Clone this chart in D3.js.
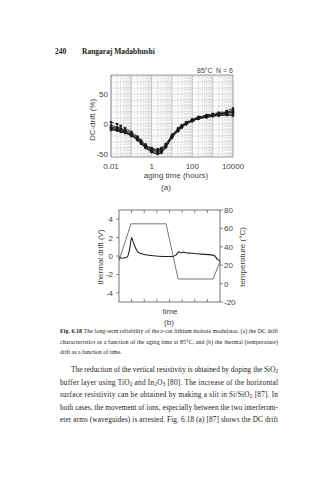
<!DOCTYPE html>
<html>
<head>
<meta charset="utf-8">
<script src="https://cdn.jsdelivr.net/npm/d3@7/dist/d3.min.js"></script>
<style>
  html, body { margin: 0; padding: 0; background: #fff; }
  svg { display: block; }
</style>
</head>
<body>
<svg id="page" width="335" height="480"></svg>
<script>
// ---- (a) DC drift vs aging time, six devices at 85 °C ----
const agingHours = [0.01, 0.02, 0.03, 0.05, 0.1, 0.2, 0.3, 0.5, 1, 2, 3, 5, 10, 20, 30, 50, 100, 200, 500, 1000, 2000, 5000, 10000];
const drift1 = [3, 0, -3, -7, -13, -21, -27, -34, -40, -42, -40, -33, -18, -7, -2, 3, 8, 12, 15, 17, 19, 22, 26];
const drift2 = [-2, -5, -7, -10, -15, -22, -28, -35, -41, -43, -41, -34, -19, -8, -3, 2, 7, 11, 14, 16, 18, 20, 23];
const drift3 = [-5, -7, -9, -12, -17, -24, -30, -37, -43, -45, -43, -36, -20, -9, -4, 1, 6, 10, 13, 15, 17, 19, 21];
const drift4 = [-7, -9, -11, -13, -18, -25, -31, -38, -44, -47, -45, -37, -21, -10, -4, 1, 6, 10, 13, 15, 16, 18, 20];
const drift5 = [-8, -10, -12, -14, -19, -26, -32, -39, -46, -49, -47, -38, -22, -11, -5, 0, 5, 9, 12, 14, 15, 16, 17];
const drift6 = [-10, -11, -13, -15, -20, -27, -33, -40, -47, -50, -48, -39, -23, -12, -6, 0, 5, 9, 11, 13, 14, 15, 14];
const driftSeries = [drift1, drift2, drift3, drift4, drift5, drift6];
const xTicksA = [0.01, 1, 100, 10000];
const xTickLabelsA = ["0.01", "1", "100", "10000"];
const yTicksA = [-50, 0, 50];

// ---- (b) thermal drift and temperature vs time ----
const tempTime = [0, 0.95, 3.73, 4.68, 7.46, 8];
const tempValues = [25, 65, 65, 5, 5, 24];
const thermTime = [0, 0.2, 0.5, 0.66, 0.85, 1.0, 1.08, 1.27, 1.53, 1.93, 2.7, 3.5, 4.2, 4.5, 4.75, 4.9, 5.1, 5.3, 5.8, 6.5, 7.3, 7.6, 7.8, 8.0];
const thermValues = [-0.1, -0.25, -0.2, -0.1, 0.8, 2.0, 1.7, 1.0, 0.4, 0.2, 0.03, -0.05, -0.05, 0.1, 0.45, 0.35, 0.42, 0.35, 0.3, 0.2, 0.12, 0.0, -0.4, -0.5];
const yTicksBLeft = [-4, -2, 0, 2, 4];
const yTicksBRight = [-20, 0, 20, 40, 60, 80];

const svg = d3.select("#page");
const sans = "'Liberation Sans', Arial, sans-serif";
const serif = "'Liberation Serif', 'Times New Roman', serif";
const ink = "#444";

// running head
svg.append("text").attr("x", 55).attr("y", 54).attr("font-family", serif)
  .attr("font-weight", "bold").attr("font-size", 7.5).attr("fill", "#222").text("240");
svg.append("text").attr("x", 82).attr("y", 54).attr("font-family", serif)
  .attr("font-weight", "bold").attr("font-size", 7.5).attr("fill", "#222").text("Rangaraj Madabhushi");

// ================= panel (a) =================
const xA = d3.scaleLog().domain([0.01, 10000]).range([111, 233]);
const yA = d3.scaleLinear().domain([-55, 82]).range([157, 75]);
const gA = svg.append("g");

// horizontal grid every 5 %
gA.append("g").selectAll("line").data(d3.range(-55, 85, 5)).join("line")
  .attr("x1", xA.range()[0]).attr("x2", xA.range()[1])
  .attr("y1", d => yA(d)).attr("y2", d => yA(d))
  .attr("stroke", d => d % 10 === 0 ? "#b8b8b8" : "#d6d6d6")
  .attr("stroke-width", 0.5)
  .attr("stroke-dasharray", d => d % 10 === 0 ? null : "2,1");

// vertical log grid (1..9 in each decade)
const minorA = [];
for (let e = -2; e < 4; e++) for (let k = 1; k < 10; k++) minorA.push(k * Math.pow(10, e));
gA.append("g").selectAll("line").data(minorA).join("line")
  .attr("x1", d => xA(d)).attr("x2", d => xA(d))
  .attr("y1", yA.range()[0]).attr("y2", yA.range()[1])
  .attr("stroke", (d, i) => i % 9 === 0 ? "#999" : "#c0c0c0")
  .attr("stroke-width", 0.5)
  .attr("stroke-dasharray", (d, i) => i % 9 === 0 ? null : "2,1");

// frame
gA.append("rect").attr("x", 111).attr("y", 75).attr("width", 122).attr("height", 82)
  .attr("fill", "none").attr("stroke", "#777").attr("stroke-width", 0.7);

// curves
const lineA = d3.line().x((d, i) => xA(agingHours[i])).y(d => yA(d)).curve(d3.curveMonotoneX);
const symTypes = [d3.symbolSquare, d3.symbolCircle, d3.symbolTriangle, d3.symbolDiamond, d3.symbolSquare, d3.symbolCircle];
driftSeries.forEach((s, k) => {
  gA.append("path").attr("d", lineA(s)).attr("fill", "none")
    .attr("stroke", "#1a1a1a").attr("stroke-width", 0.9)
    .attr("stroke-dasharray", k === 0 ? "3,1.5" : null);
  gA.append("g").selectAll("path").data(s).join("path")
    .attr("transform", (d, i) => `translate(${xA(agingHours[i])},${yA(d)})`)
    .attr("d", d3.symbol().type(symTypes[k]).size(4))
    .attr("fill", "#1a1a1a").attr("stroke", "#1a1a1a").attr("stroke-width", 0.4);
});

// tick labels
gA.append("g").selectAll("text").data(xTicksA).join("text")
  .attr("x", d => xA(d)).attr("y", 169).attr("text-anchor", "middle")
  .attr("font-family", sans).attr("font-size", 8).attr("fill", ink)
  .text((d, i) => xTickLabelsA[i]);
gA.append("g").selectAll("text").data(yTicksA).join("text")
  .attr("x", 108).attr("y", d => yA(d) + 3).attr("text-anchor", "end")
  .attr("font-family", sans).attr("font-size", 8).attr("fill", ink)
  .text(d => d);

gA.append("text").attr("transform", "translate(95,120) rotate(-90)")
  .attr("text-anchor", "middle").attr("font-family", sans).attr("font-size", 8).attr("fill", ink)
  .text("DC-drift (%)");
gA.append("text").attr("x", 176).attr("y", 178).attr("text-anchor", "middle")
  .attr("font-family", sans).attr("font-size", 8).attr("fill", ink)
  .text("aging time  (hours)");
gA.append("text").attr("x", 166).attr("y", 190).attr("text-anchor", "middle")
  .attr("font-family", sans).attr("font-size", 8).attr("fill", ink).text("(a)");
gA.append("text").attr("x", 197).attr("y", 73)
  .attr("font-family", sans).attr("font-size", 7).attr("fill", ink).text("85°C");
gA.append("text").attr("x", 233).attr("y", 73).attr("text-anchor", "end")
  .attr("font-family", sans).attr("font-size", 7).attr("fill", ink).text("N = 6");

// ================= panel (b) =================
const xB = d3.scaleLinear().domain([0, 8]).range([119, 220]);
const yBL = d3.scaleLinear().domain([-5, 5]).range([302, 210]);
const yBR = d3.scaleLinear().domain([-20, 80]).range([302, 210]);
const gB = svg.append("g");

gB.append("rect").attr("x", 119).attr("y", 210).attr("width", 101).attr("height", 92)
  .attr("fill", "none").attr("stroke", "#555").attr("stroke-width", 0.8);

// inner time ticks on top and bottom edges
const tTicks = d3.range(1, 8);
gB.append("g").selectAll("line").data(tTicks).join("line")
  .attr("x1", d => xB(d)).attr("x2", d => xB(d)).attr("y1", 210).attr("y2", 213)
  .attr("stroke", "#555").attr("stroke-width", 0.7);
gB.append("g").selectAll("line").data(tTicks).join("line")
  .attr("x1", d => xB(d)).attr("x2", d => xB(d)).attr("y1", 302).attr("y2", 299)
  .attr("stroke", "#555").attr("stroke-width", 0.7);

// left axis
gB.append("g").selectAll("line").data(yTicksBLeft).join("line")
  .attr("x1", 116).attr("x2", 119).attr("y1", d => yBL(d)).attr("y2", d => yBL(d))
  .attr("stroke", "#555").attr("stroke-width", 0.7);
gB.append("g").selectAll("text").data(yTicksBLeft).join("text")
  .attr("x", 113).attr("y", d => yBL(d) + 3).attr("text-anchor", "end")
  .attr("font-family", sans).attr("font-size", 8).attr("fill", ink).text(d => d);

// right axis
gB.append("g").selectAll("line").data(yTicksBRight).join("line")
  .attr("x1", 220).attr("x2", 223).attr("y1", d => yBR(d)).attr("y2", d => yBR(d))
  .attr("stroke", "#555").attr("stroke-width", 0.7);
gB.append("g").selectAll("text").data(yTicksBRight).join("text")
  .attr("x", 224).attr("y", d => yBR(d) + 3)
  .attr("font-family", sans).attr("font-size", 8).attr("fill", ink).text(d => d);

// temperature (thin) and thermal drift (heavier)
const tempLine = d3.line().x((d, i) => xB(tempTime[i])).y(d => yBR(d));
gB.append("path").attr("d", tempLine(tempValues)).attr("fill", "none")
  .attr("stroke", "#555").attr("stroke-width", 0.8);
const thermLine = d3.line().x((d, i) => xB(thermTime[i])).y(d => yBL(d)).curve(d3.curveMonotoneX);
gB.append("path").attr("d", thermLine(thermValues)).attr("fill", "none")
  .attr("stroke", "#222").attr("stroke-width", 1.1);

gB.append("text").attr("transform", "translate(103,257) rotate(-90)")
  .attr("text-anchor", "middle").attr("font-family", sans).attr("font-size", 8).attr("fill", ink)
  .text("thermal drift (V)");
gB.append("text").attr("transform", "translate(245,257) rotate(-90)")
  .attr("text-anchor", "middle").attr("font-family", sans).attr("font-size", 8).attr("fill", ink)
  .text("temperature (°C)");
gB.append("text").attr("x", 170).attr("y", 314).attr("text-anchor", "middle")
  .attr("font-family", sans).attr("font-size", 8).attr("fill", ink).text("time");
gB.append("text").attr("x", 169).attr("y", 325).attr("text-anchor", "middle")
  .attr("font-family", sans).attr("font-size", 8).attr("fill", ink).text("(b)");

// ================= caption and body text =================
const capSize = 5.9;
function capLine(y, parts, justify) {
  const t = svg.append("text").attr("x", 60).attr("y", y)
    .attr("font-family", serif).attr("font-size", capSize).attr("fill", "#222");
  parts.forEach(p => {
    const s = t.append("tspan").text(p.t);
    if (p.b) s.attr("font-weight", "bold");
  });
  if (justify) t.attr("textLength", 218).attr("lengthAdjust", "spacing");
}
capLine(333, [{ t: "Fig. 6.18", b: true }, { t: "   The long-term reliability of the z-cut lithium niobate modulator, (a) the DC drift" }], true);
capLine(343.5, [{ t: "characteristics as a function of the aging time at 85°C, and (b) the thermal (temperature)" }], true);
capLine(354, [{ t: "drift as a function of time." }], false);

const bodySize = 7.3;
function bodyLine(y, x, parts, justify) {
  const t = svg.append("text").attr("x", x).attr("y", y)
    .attr("font-family", serif).attr("font-size", bodySize).attr("fill", "#1a1a1a");
  parts.forEach(p => {
    const s = t.append("tspan").text(p.t);
    if (p.sub) s.attr("font-size", bodySize * 0.7).attr("baseline-shift", "-25%");
  });
  if (justify) t.attr("textLength", 278 - x).attr("lengthAdjust", "spacing");
}
bodyLine(372, 71, [{ t: "The reduction of the vertical resistivity is obtained by doping the SiO" }, { t: "2", sub: true }], true);
bodyLine(384.5, 60, [{ t: "buffer layer using TiO" }, { t: "2", sub: true }, { t: " and In" }, { t: "2", sub: true }, { t: "O" }, { t: "3", sub: true }, { t: " [80]. The increase of the horizontal" }], true);
bodyLine(397, 60, [{ t: "surface resistivity can be obtained by making a slit in Si/SiO" }, { t: "2", sub: true }, { t: " [87]. In" }], true);
bodyLine(409.5, 60, [{ t: "both cases, the movement of ions, especially between the two interferom-" }], true);
bodyLine(422, 60, [{ t: "eter arms (waveguides) is arrested. Fig. 6.18 (a) [87] shows the DC drift" }], true);
</script>
</body>
</html>
